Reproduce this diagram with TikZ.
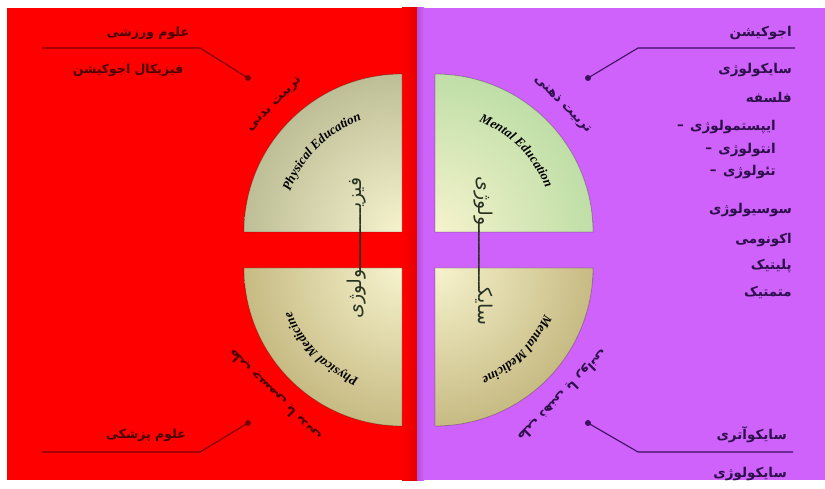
\documentclass[tikz,border=0pt]{standalone}
\usepackage{fontspec}
\usetikzlibrary{calc,decorations.text}
\TeXXeTstate=1
\newfontfamily\fa[Script=Arabic]{DejaVu Sans}
\newfontfamily\en{Liberation Serif}
\newcommand\fatext[1]{{\fa\beginR #1\endR}}
\newcommand\arctext{\en\bfseries\itshape\fontsize{13}{15}\selectfont}
\definecolor{panelred}{RGB}{254,0,0}
\definecolor{panelpurple}{RGB}{206,98,250}
\definecolor{redink}{RGB}{70,0,0}
\definecolor{purpleink}{RGB}{45,15,75}
\definecolor{redline}{RGB}{120,0,0}
\definecolor{purpleline}{RGB}{60,15,95}
\definecolor{cream}{RGB}{246,243,205}
\definecolor{olivegrey}{RGB}{142,145,105}
\definecolor{mintgreen}{RGB}{145,205,135}
\definecolor{khaki}{RGB}{160,140,70}
\definecolor{penink}{RGB}{40,50,35}

\begin{document}
\begin{tikzpicture}[x=1pt,y=1pt,
    leftlabel/.style={font=\fa\bfseries\fontsize{12.5}{14}\selectfont, text=redink, inner sep=1pt},
    rightlabel/.style={font=\fa\bfseries\fontsize{13.5}{15}\selectfont, text=purpleink, anchor=east, inner sep=1pt},
    arclabel/.style={font=\fa\bfseries\fontsize{13}{15}\selectfont, inner sep=1pt},
    spine/.style={font=\fa\fontsize{19}{21}\selectfont, text=penink, inner sep=0pt},
    redlead/.style={draw=redline, line width=1.1pt},
    purplelead/.style={draw=purpleline, line width=1.1pt},
    quarteredge/.style={draw=black, draw opacity=0.25, line width=0.8pt}]
    \useasboundingbox (0,0) rectangle (825,488);
    \fill[white] (0,0) rectangle (825,488);
    % two panels
    \fill[panelred] (7,8) rectangle (417,480);
    \fill[panelpurple] (417,8) rectangle (825,480);
    \shade[left color=panelred, right color=red!90!black] (402,8) rectangle (417,480);
    \shade[left color=panelpurple!80!purpleline, right color=panelpurple] (417,8) rectangle (424,480);

    % corners of the four quarters
    \coordinate (PE) at (402,256);
    \coordinate (ME) at (435,256);
    \coordinate (PM) at (402,220);
    \coordinate (MM) at (435,220);

    \begin{scope}
        \clip (PE) -- ++(-158,0) arc[start angle=180, end angle=90, radius=158] -- cycle;
        \shade[inner color=cream, outer color=olivegrey] (PE) circle (290);
    \end{scope}
    \draw[quarteredge] (PE) -- ++(-158,0) arc[start angle=180, end angle=90, radius=158] -- cycle;
    \begin{scope}
        \clip (ME) -- ++(158,0) arc[start angle=0, end angle=90, radius=158] -- cycle;
        \shade[inner color=cream, outer color=mintgreen] (ME) circle (290);
    \end{scope}
    \draw[quarteredge] (ME) -- ++(158,0) arc[start angle=0, end angle=90, radius=158] -- cycle;
    \begin{scope}
        \clip (PM) -- ++(-158,0) arc[start angle=180, end angle=270, radius=158] -- cycle;
        \shade[inner color=cream, outer color=khaki] (PM) circle (290);
    \end{scope}
    \draw[quarteredge] (PM) -- ++(-158,0) arc[start angle=180, end angle=270, radius=158] -- cycle;
    \begin{scope}
        \clip (MM) -- ++(158,0) arc[start angle=0, end angle=-90, radius=158] -- cycle;
        \shade[inner color=cream, outer color=khaki] (MM) circle (290);
    \end{scope}
    \draw[quarteredge] (MM) -- ++(158,0) arc[start angle=0, end angle=-90, radius=158] -- cycle;

    % english titles on the arcs
    \path[decorate, decoration={text along path, text align=center, text={|\arctext|Physical Education}}]
        (PE) ++(178:119) arc[start angle=178, end angle=92, radius=119];
    \path[decorate, decoration={text along path, text align=center, text={|\arctext|Mental Education}}]
        (ME) ++(88:119) arc[start angle=88, end angle=2, radius=119];
    \path[decorate, decoration={text along path, text align=center, text={|\arctext|Physical Medicine}}]
        (PM) ++(268:119) arc[start angle=268, end angle=182, radius=119];
    \path[decorate, decoration={text along path, text align=center, text={|\arctext|Mental Medicine}}]
        (MM) ++(358:119) arc[start angle=358, end angle=272, radius=119];

    % vertical words through the gaps
    \node[spine, rotate=90] (physio) at (357,240) {\fatext{فیزیـــــــــــولوژی}};
    \node[spine, rotate=-90] (psycho) at (483,237) {\fatext{سایکـــــــــــولوژی}};

    % persian titles outside the arcs
    \node[arclabel, text=redink, rotate=45] (peName) at ($(PE)+(135:180)$) {\fatext{تربیت بدنی}};
    \node[arclabel, text=purpleink, rotate=-45] (meName) at ($(ME)+(45:180)$) {\fatext{تربیت ذهنی}};
    \node[arclabel, text=redink, rotate=135] (pmName) at ($(PM)+(225:180)$) {\fatext{طب جسمی یا بدنی}};
    \node[arclabel, text=purpleink, rotate=225] (mmName) at ($(MM)+(315:180)$) {\fatext{طب ذهنی یا روانی}};

    % leader lines
    \coordinate (peDot) at (248,410);
    \coordinate (peBend) at (200,440);
    \coordinate (peEnd) at (42,440);
    \draw[redlead] (peDot) -- (peBend) -- (peEnd);
    \fill[redline] (peDot) circle (3);
    \node[leftlabel] (sport) at (148,455) {\fatext{علوم ورزشی}};
    \node[leftlabel] (physEdu) at (128,418) {\fatext{فیزیکال اجوکیشن}};

    \coordinate (pmDot) at (248,65);
    \coordinate (pmBend) at (200,36);
    \coordinate (pmEnd) at (42,36);
    \draw[redlead] (pmDot) -- (pmBend) -- (pmEnd);
    \fill[redline] (pmDot) circle (3);
    \node[leftlabel] (medical) at (146,53) {\fatext{علوم پزشکی}};

    \coordinate (meDot) at (588,410);
    \coordinate (meBend) at (638,440);
    \coordinate (meEnd) at (795,440);
    \draw[purplelead] (meDot) -- (meBend) -- (meEnd);
    \fill[purpleline] (meDot) circle (3);

    \coordinate (mmDot) at (588,65);
    \coordinate (mmBend) at (638,36);
    \coordinate (mmEnd) at (793,36);
    \draw[purplelead] (mmDot) -- (mmBend) -- (mmEnd);
    \fill[purpleline] (mmDot) circle (3);

    % list on the right
    \node[rightlabel] (edu) at (793,455) {\fatext{اجوکیشن}};
    \foreach \n/\y/\word in {a/418/سایکولوژی, b/391/فلسفه, c/278/سوسیولوژی, d/248/اکونومی, e/222/پلیتیک, f/196/متمتیک} {
        \node[rightlabel] (list\n) at (793,\y) {\fatext{\word}};
    }
    \foreach \n/\y/\word in {a/361/ایپستمولوژی, b/338/انتولوژی, c/316/تئولوژی} {
        \node[rightlabel] (sub\n) at (777,\y) {\fatext{\word}};
        \node[rightlabel] (dash\n) at ([xshift=-4pt]sub\n.west) {–};
    }
    \node[rightlabel] (psychiatry) at (788,53) {\fatext{سایکوآتری}};
    \node[rightlabel] (psychology) at (788,14) {\fatext{سایکولوژی}};
\end{tikzpicture}
\end{document}
